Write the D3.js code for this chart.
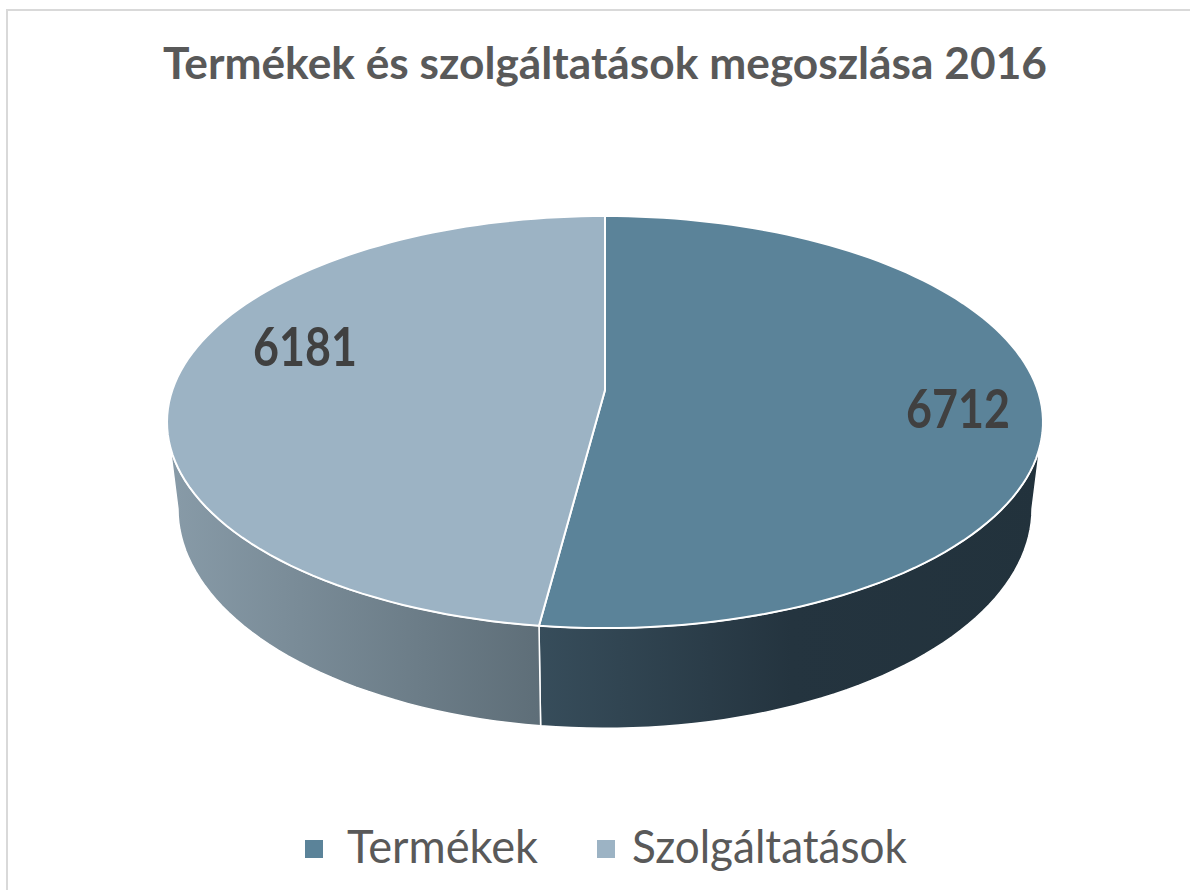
<!DOCTYPE html>
<html>
<head>
<meta charset="utf-8">
<script src="https://cdn.jsdelivr.net/npm/d3@7"></script>
<style>
  html, body { margin: 0; padding: 0; background: #ffffff; }
  svg { display: block; }
</style>
</head>
<body>
<script>
// ---- data ----
const title = "Termékek és szolgáltatások megoszlása 2016";
const categories = ["Termékek", "Szolgáltatások"];
const values = [6712, 6181];
const topColors = ["#5b8399", "#9cb3c4"];

// ---- layout / projection ----
const W = 1190, H = 890;
const cx = 605, cy = 390;      // projected pie centre
const D = 6.43;                // perspective distance (in radii)
const A = 2782, B = 1293;      // horizontal / vertical projection factors
const DEPTH = 544;             // side thickness factor

function proj(theta, r, bottom) {
  const X = r * Math.sin(theta), Z = r * Math.cos(theta);
  const w = D + Z;
  const s = bottom ? 0.975 : 1;
  return [cx + s * A * X / w, cy - B * Z / w + (bottom ? DEPTH / w : 0)];
}

const svg = d3.select("body").append("svg")
  .attr("width", W).attr("height", H);

// frame
svg.append("rect")
  .attr("x", 7).attr("y", 10).attr("width", W + 10).attr("height", H + 10)
  .attr("fill", "#ffffff").attr("stroke", "#d9d9d9").attr("stroke-width", 2);

// title
svg.append("text")
  .attr("x", 605).attr("y", 79)
  .attr("text-anchor", "middle")
  .attr("font-family", "Lato, 'Open Sans', sans-serif")
  .attr("font-weight", "bold")
  .attr("font-size", 43)
  .attr("fill", "#595959")
  .attr("textLength", 884).attr("lengthAdjust", "spacingAndGlyphs")
  .text(title);

const pie = d3.pie().sort(null).value(d => d)(values);

// gradients for the sides
const defs = svg.append("defs");
const gradStops = [
  [["0%", "#889ba8"], ["100%", "#5e6e78"]],
  [["0%", "#374d5b"], ["50%", "#24343f"], ["100%", "#22323c"]]
];
const gDark = defs.append("linearGradient").attr("id", "gDark")
  .attr("gradientUnits", "userSpaceOnUse")
  .attr("x1", 538).attr("x2", 1045).attr("y1", 0).attr("y2", 0);
gradStops[1].forEach(s => gDark.append("stop").attr("offset", s[0]).attr("stop-color", s[1]));
const gLight = defs.append("linearGradient").attr("id", "gLight")
  .attr("gradientUnits", "userSpaceOnUse")
  .attr("x1", 168).attr("x2", 540).attr("y1", 0).attr("y2", 0);
gradStops[0].forEach(s => gLight.append("stop").attr("offset", s[0]).attr("stop-color", s[1]));
const sideFill = ["url(#gDark)", "url(#gLight)"];

const line = d3.line();
const visA = Math.acos(-1 / D), visB = 2 * Math.PI - visA;
const N = 200;

function arcPts(a0, a1, bottom) {
  const n = Math.max(2, Math.ceil(N * Math.abs(a1 - a0) / (2 * Math.PI)));
  return d3.range(n + 1).map(i => proj(a0 + (a1 - a0) * i / n, 1, bottom));
}

// sides
pie.forEach((p, i) => {
  const s = Math.max(p.startAngle, visA), e = Math.min(p.endAngle, visB);
  if (e <= s) return;
  const pts = arcPts(s, e, false).concat(arcPts(e, s, true));
  svg.append("path")
    .attr("d", line(pts) + "Z")
    .attr("fill", sideFill[i])
    .attr("stroke", "#ffffff").attr("stroke-width", 1.5)
    .attr("stroke-linejoin", "round");
});

// top faces
pie.forEach((p, i) => {
  const pts = [[cx, cy]].concat(arcPts(p.startAngle, p.endAngle, false));
  svg.append("path")
    .attr("d", line(pts) + "Z")
    .attr("fill", topColors[i])
    .attr("stroke", "#ffffff").attr("stroke-width", 2)
    .attr("stroke-linejoin", "round");
});

// value labels
const labelPos = [[958, 428], [305, 366]];
pie.forEach((p, i) => {
  svg.append("text")
    .attr("x", labelPos[i][0]).attr("y", labelPos[i][1])
    .attr("text-anchor", "middle")
    .attr("font-family", "Lato, 'Open Sans', sans-serif")
    .attr("font-weight", "bold")
    .attr("font-size", 53)
    .attr("fill", "#404040")
    .attr("textLength", 104).attr("lengthAdjust", "spacingAndGlyphs")
    .text(values[i]);
});

// legend
const legendItems = [
  { sq: 305, tx: 347, w: 191 },
  { sq: 597, tx: 632, w: 275 }
];
categories.forEach((c, i) => {
  const L = legendItems[i];
  svg.append("rect")
    .attr("x", L.sq).attr("y", 840).attr("width", 18).attr("height", 18)
    .attr("fill", topColors[i]);
  svg.append("text")
    .attr("x", L.tx).attr("y", 863)
    .attr("font-family", "Lato, 'Open Sans', sans-serif")
    .attr("font-size", 47)
    .attr("fill", "#595959")
    .attr("textLength", L.w).attr("lengthAdjust", "spacingAndGlyphs")
    .text(c);
});
</script>
</body>
</html>
